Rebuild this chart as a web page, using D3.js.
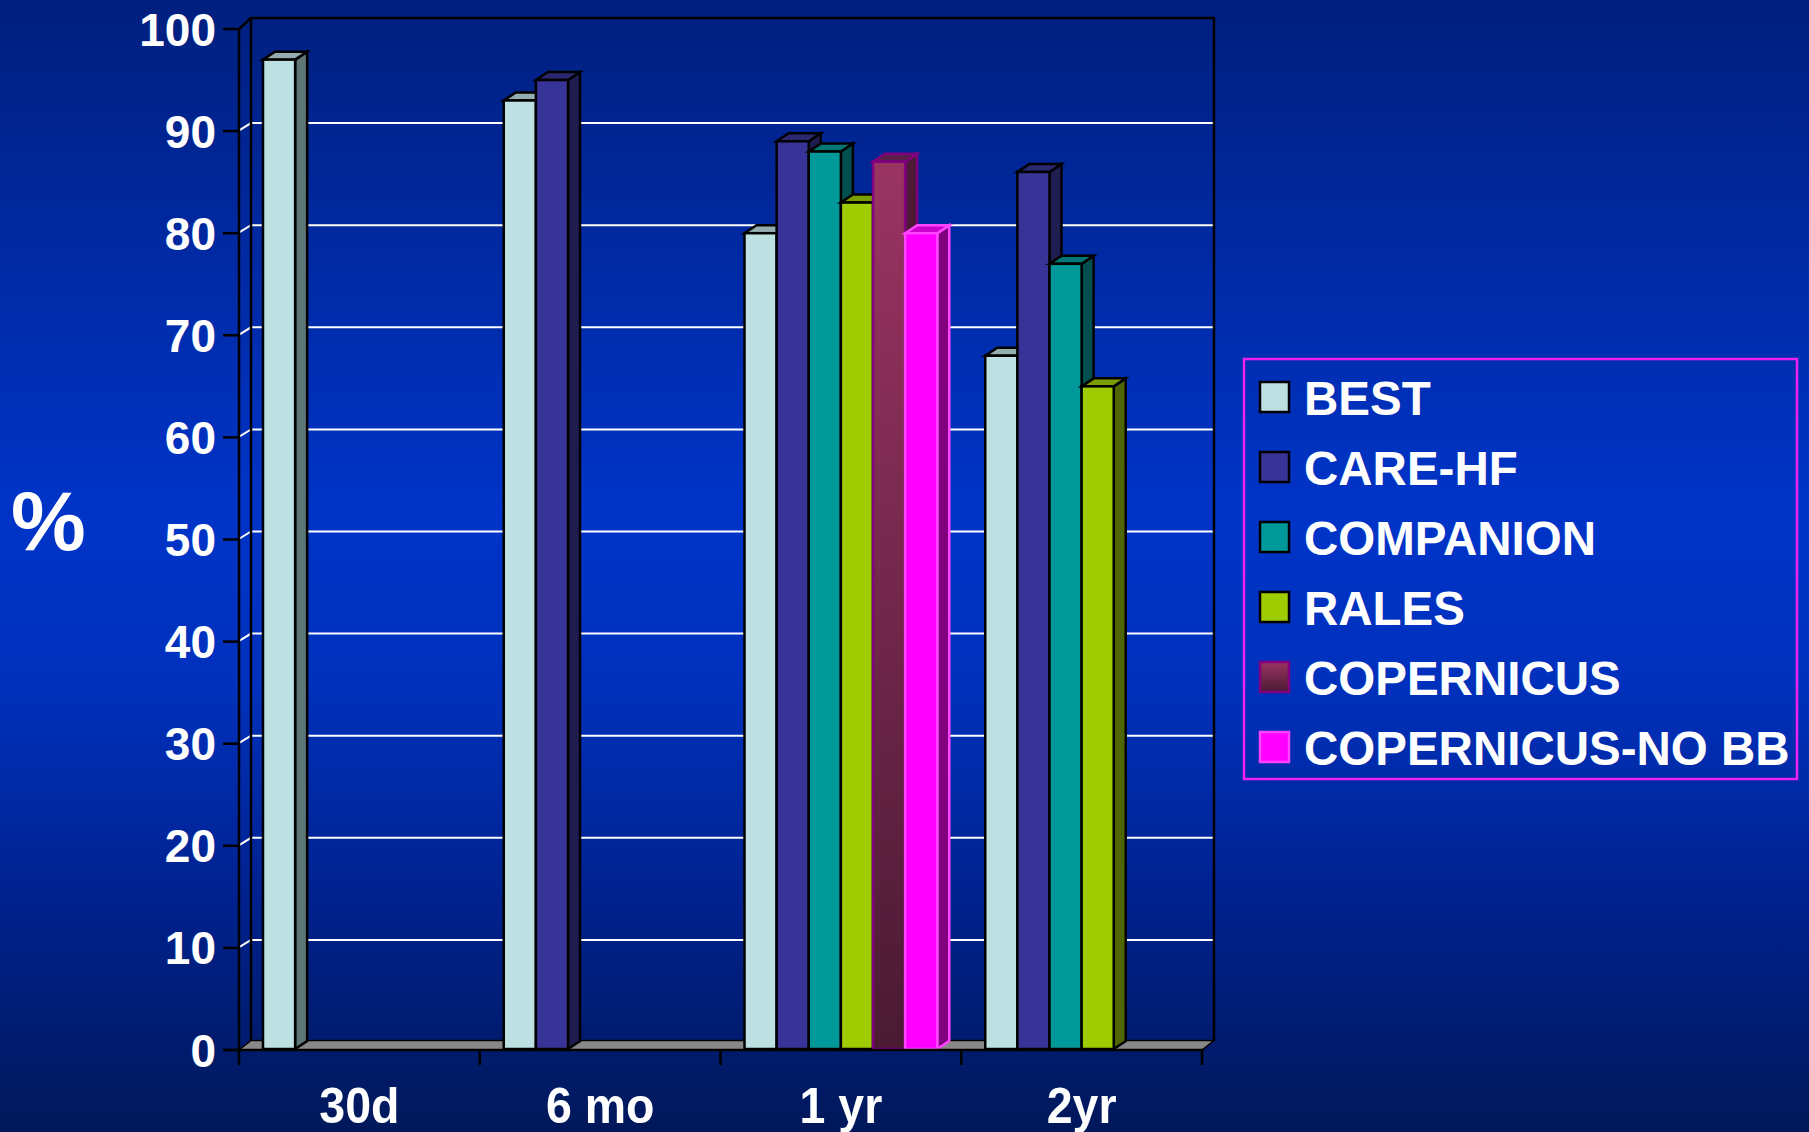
<!DOCTYPE html>
<html>
<head>
<meta charset="utf-8">
<script src="https://cdn.jsdelivr.net/npm/d3@7"></script>
<style>
  html, body { margin: 0; padding: 0; background: #0030bc; }
  svg { display: block; }
  text { font-family: "Liberation Sans", Arial, sans-serif; font-weight: bold; fill: #ffffff; }
</style>
</head>
<body>
<svg id="chart" width="1809" height="1132"></svg>
<script>
// Survival (%) by follow-up time in heart-failure trials
const categories = ["30d", "6 mo", "1 yr", "2yr"];
const seriesNames = ["BEST", "CARE-HF", "COMPANION", "RALES", "COPERNICUS", "COPERNICUS-NO BB"];
const best           = [97, 93, 80, 68];
const careHF         = [null, 95, 89, 86];
const companion      = [null, null, 88, 77];
const rales          = [null, null, 83, 65];
const copernicus     = [null, null, 87, null];
const copernicusNoBB = [null, null, 80, null];
const yTicks = [0, 10, 20, 30, 40, 50, 60, 70, 80, 90, 100];
const yTitle = "%";

const seriesValues = [best, careHF, companion, rales, copernicus, copernicusNoBB];

// face colours per series: front, top, side, outline
const styles = {
  "BEST":             { front: "#bde0e2", top: "#94adae", side: "#5f7677", stroke: "#000000" },
  "CARE-HF":          { front: "#383396", top: "#2c2870", side: "#1f1c4f", stroke: "#000000" },
  "COMPANION":        { front: "#009999", top: "#007676", side: "#004f4f", stroke: "#000000" },
  "RALES":            { front: "#9ecc00", top: "#7a9e00", side: "#4f6600", stroke: "#000000" },
  "COPERNICUS":       { front: "url(#copGrad)", top: "#5a1f48", side: "#4d1a35", stroke: "#800080" },
  "COPERNICUS-NO BB": { front: "#ff00ff", top: "#cc00cc", side: "#800080", stroke: "#ff44ff" }
};

const svg = d3.select("#chart");
const W = 1809, H = 1132;

// ---- defs: background + bar gradient
const defs = svg.append("defs");
const bg = defs.append("linearGradient").attr("id", "bgGrad")
  .attr("x1", 0).attr("y1", 0).attr("x2", 0).attr("y2", 1);
[[0, "#001f7e"], [0.45, "#0034c8"], [0.6, "#0031bd"], [0.8, "#00218d"], [1, "#00185a"]]
  .forEach(([o, c]) => bg.append("stop").attr("offset", o).attr("stop-color", c));
const cg = defs.append("linearGradient").attr("id", "copGrad")
  .attr("x1", 0).attr("y1", 0).attr("x2", 0).attr("y2", 1);
cg.append("stop").attr("offset", 0).attr("stop-color", "#9a3462");
cg.append("stop").attr("offset", 1).attr("stop-color", "#4a1a33");

svg.append("rect").attr("width", W).attr("height", H).attr("fill", "url(#bgGrad)");

// ---- scales
const x0 = d3.scaleBand().domain(categories).range([239, 1202]).paddingInner(0).paddingOuter(0);
const x1 = d3.scaleBand().domain(seriesNames).range([24, x0.bandwidth() - 24]).padding(0);
const y = d3.scaleLinear().domain([0, 100]).range([1050, 29]);

// oblique depth of the plot box and of each bar
const DX = 12, DY = -9.5;
const BDX = 12, BDY = -8;

const left = x0.range()[0], right = x0.range()[1];

// ---- floor
svg.append("path")
  .attr("d", `M${left},${y(0)} L${right},${y(0)} L${right + DX},${y(0) + DY} L${left + DX},${y(0) + DY} Z`)
  .attr("fill", "#888888").attr("stroke", "#000").attr("stroke-width", 1.5);

// ---- gridlines on the back wall, with the short diagonal across the side wall
const grid = svg.append("g");
yTicks.filter(t => t > 0 && t < 100).forEach(t => {
  grid.append("path")
    .attr("d", `M${left - 1},${y(t)} L${left + DX},${y(t) - 8} L${right + DX},${y(t) - 8}`)
    .attr("fill", "none").attr("stroke", "#ffffff").attr("stroke-width", 2);
});

// ---- plot box edges
const box = svg.append("g").attr("stroke", "#000").attr("stroke-width", 2.5).attr("fill", "none");
box.append("path").attr("d",
  `M${left + DX},${y(0) + DY} L${left + DX},${y(100) - 11} L${right + DX},${y(100) - 11} L${right + DX},${y(0) + DY}`);
box.append("path").attr("d", `M${left},${y(0)} L${left},${y(100)} L${left + DX},${y(100) - 11}`);

// ---- bars
const barsG = svg.append("g");
categories.forEach((cat, ci) => {
  seriesNames.forEach((name, si) => {
    const v = seriesValues[si][ci];
    if (v == null) return;
    const st = styles[name];
    const xl = x0(cat) + x1(name);
    const xr = xl + x1.bandwidth();
    const yt = y(v), yb = y(0) - 1;
    const g = barsG.append("g")
      .attr("stroke", st.stroke).attr("stroke-width", 2.5).attr("stroke-linejoin", "miter");
    // side face
    g.append("path")
      .attr("d", `M${xr},${yt} L${xr + BDX},${yt + BDY} L${xr + BDX},${yb + BDY} L${xr},${yb} Z`)
      .attr("fill", st.side);
    // top face
    g.append("path")
      .attr("d", `M${xl},${yt} L${xl + BDX},${yt + BDY} L${xr + BDX},${yt + BDY} L${xr},${yt} Z`)
      .attr("fill", st.top);
    // front face
    g.append("rect")
      .attr("x", xl).attr("y", yt).attr("width", xr - xl).attr("height", yb - yt)
      .attr("fill", st.front);
  });
});

// ---- y axis ticks and labels
const yAxis = svg.append("g");
yTicks.forEach(t => {
  yAxis.append("line").attr("x1", 223).attr("x2", left).attr("y1", y(t)).attr("y2", y(t))
    .attr("stroke", "#000").attr("stroke-width", 2.5);
  yAxis.append("text").attr("x", 216).attr("y", y(t) + 16.5)
    .attr("text-anchor", "end").attr("font-size", 46).text(t);
});

// ---- x axis line, ticks and labels
const xAxis = svg.append("g");
xAxis.append("line").attr("x1", 223).attr("x2", right + 2).attr("y1", y(0)).attr("y2", y(0))
  .attr("stroke", "#000").attr("stroke-width", 2.5);
d3.range(categories.length + 1).forEach(i => {
  const xx = i < categories.length ? x0(categories[i]) : right;
  xAxis.append("line").attr("x1", xx).attr("x2", xx).attr("y1", y(0)).attr("y2", y(0) + 15)
    .attr("stroke", "#000").attr("stroke-width", 2.5);
});
categories.forEach(cat => {
  const cx = x0(cat) + x0.bandwidth() / 2;
  xAxis.append("text")
    .attr("transform", `translate(${cx},1123) scale(0.93,1)`)
    .attr("text-anchor", "middle").attr("font-size", 50).text(cat);
});

// ---- y title
svg.append("text").attr("x", 11).attr("y", 550).attr("font-size", 84).text(yTitle);

// ---- legend
const lg = svg.append("g");
lg.append("rect").attr("x", 1244).attr("y", 359).attr("width", 553).attr("height", 420)
  .attr("fill", "none").attr("stroke", "#f020f0").attr("stroke-width", 2.5);
seriesNames.forEach((name, i) => {
  const cy = 397 + i * 70;
  const st = styles[name];
  lg.append("rect").attr("x", 1260).attr("y", cy - 15).attr("width", 29).attr("height", 30)
    .attr("fill", st.front).attr("stroke", st.stroke).attr("stroke-width", 2.5);
  lg.append("text").attr("x", 1304).attr("y", cy + 18).attr("font-size", 47.5).text(name);
});
</script>
</body>
</html>
